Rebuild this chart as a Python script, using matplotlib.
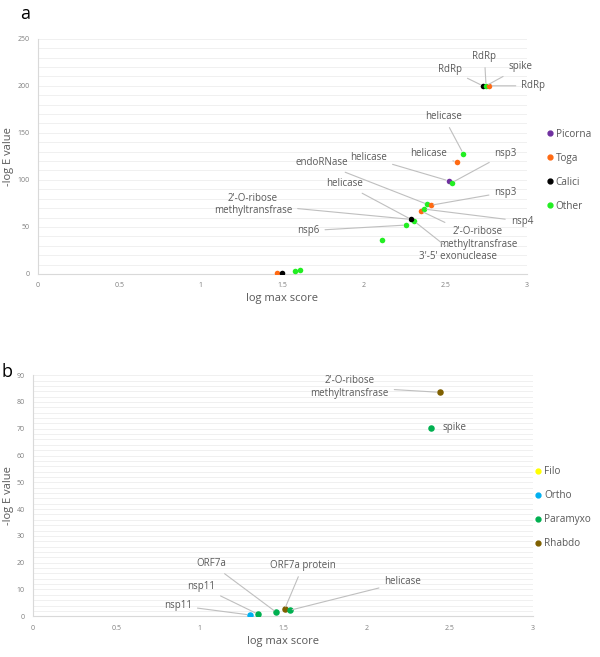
import matplotlib.pyplot as plt
from matplotlib.ticker import MultipleLocator
from matplotlib.lines import Line2D

plt.rcParams['font.family'] = ['Open Sans', 'DejaVu Sans']

# panel a data
a_groups = ['Picorna', 'Toga', 'Calici', 'Other']
a_colors = {'Picorna': '#7030A0', 'Toga': '#FF6A13', 'Calici': '#000000', 'Other': '#22EE22'}
a_x = [1.47, 1.50, 1.58, 1.61, 2.11, 2.26, 2.31, 2.29, 2.35, 2.37, 2.39, 2.41,
       2.52, 2.54, 2.57, 2.61, 2.73, 2.75, 2.77]
a_y = [1, 1, 3, 4, 36, 52, 56, 58, 67, 69, 74, 73,
       99, 97, 119, 128, 200, 200, 200]
a_grp = ['Toga', 'Calici', 'Other', 'Other', 'Other', 'Other', 'Other', 'Calici', 'Toga', 'Other', 'Other', 'Toga',
         'Picorna', 'Other', 'Toga', 'Other', 'Calici', 'Other', 'Toga']

# labels: (text, index of point)
a_labels = [('RdRp', 16), ('RdRp', 17), ('spike', 17), ('RdRp', 18),
            ('helicase', 15), ('helicase', 14), ('nsp3', 13), ('helicase', 12),
            ('endoRNase', 10), ('helicase', 7), ("2'-O-ribose\nmethyltransfrase", 7),
            ('nsp6', 5), ('nsp3', 11), ('nsp4', 9),
            ("2'-O-ribose\nmethyltransfrase", 8), ("3'-5' exonuclease", 6)]
a_label_pos = [(2.53, 217), (2.74, 231), (2.96, 220), (3.04, 200),
               (2.49, 167), (2.40, 128), (2.87, 128), (2.03, 124),
               (1.74, 118), (1.88, 96), (1.32, 74),
               (1.66, 46), (2.87, 87), (2.97, 56),
               (2.70, 38), (2.58, 19)]

# panel b data
b_groups = ['Filo', 'Ortho', 'Paramyxo', 'Rhabdo']
b_colors = {'Filo': '#FFFF00', 'Ortho': '#00B0F0', 'Paramyxo': '#00B050', 'Rhabdo': '#7F6000'}
b_x = [1.30, 1.35, 1.46, 1.51, 1.54, 2.39, 2.44]
b_y = [0.5, 0.8, 1.5, 2.6, 2.2, 70.3, 83.6]
b_grp = ['Ortho', 'Paramyxo', 'Paramyxo', 'Rhabdo', 'Paramyxo', 'Paramyxo', 'Rhabdo']

b_labels = [("2'-O-ribose\nmethyltransfrase", 6), ('spike', 5), ('ORF7a', 2),
            ('ORF7a protein', 3), ('nsp11', 1), ('nsp11', 0), ('helicase', 4)]
b_label_pos = [(1.90, 85.6), (2.53, 70.3), (1.07, 19.6),
               (1.62, 18.8), (1.01, 11.1), (0.87, 4.0), (2.22, 12.8)]

grey = '#595959'
line_grey = '#BFBFBF'

fig = plt.figure(figsize=(6, 6.57), dpi=100)
ax_a = fig.add_axes([0.063, 0.583, 0.815, 0.358])
ax_b = fig.add_axes([0.055, 0.062, 0.833, 0.367])


def style(ax, ymax, major, minor):
    ax.set_xlim(0, 3)
    ax.set_ylim(0, ymax)
    ax.xaxis.set_major_locator(MultipleLocator(0.5))
    ax.yaxis.set_major_locator(MultipleLocator(major))
    ax.yaxis.set_minor_locator(MultipleLocator(minor))
    ax.xaxis.set_major_formatter(plt.FuncFormatter(lambda v, p: f'{v:g}'))
    ax.grid(axis='y', which='both', color='#EEEEEE', lw=0.6)
    ax.set_axisbelow(True)
    for s in ['top', 'right']:
        ax.spines[s].set_visible(False)
    for s in ['left', 'bottom']:
        ax.spines[s].set_color('#D9D9D9')
        ax.spines[s].set_linewidth(0.8)
    ax.tick_params(which='both', length=0, labelsize=5, colors='#7F7F7F', pad=6)
    ax.set_xlabel('log max score', fontsize=8, color=grey, labelpad=3)
    ax.set_ylabel('-log E value', fontsize=8, color=grey, labelpad=2)


def draw(ax, xs, ys, grp, colors, groups, labels, pos, size, leg_x, leg_y):
    for x, y, g in zip(xs, ys, grp):
        ax.scatter(x, y, s=size, color=colors[g], zorder=3, linewidths=0)
    for (txt, i), (lx, ly) in zip(labels, pos):
        near = abs(lx - xs[i]) < 0.2 and abs(ly - ys[i]) < 1
        props = None if near else dict(arrowstyle='-', color=line_grey, lw=0.8,
                                       shrinkA=2, shrinkB=2)
        ax.annotate(txt, xy=(xs[i], ys[i]), xytext=(lx, ly), textcoords='data',
                    fontsize=7, color=grey, ha='center', va='center',
                    annotation_clip=False, arrowprops=props)
    handles = [Line2D([], [], ls='', marker='o', ms=3.5, color=colors[g], label=g)
               for g in groups]
    ax.legend(handles=handles, loc='center left', bbox_to_anchor=(leg_x, leg_y),
              frameon=False, fontsize=7.2, labelspacing=1.3, handletextpad=0.2,
              handlelength=0.8, labelcolor=grey)


style(ax_a, 250, 50, 10)
style(ax_b, 90, 10, 2)
draw(ax_a, a_x, a_y, a_grp, a_colors, a_groups, a_labels, a_label_pos, 16, 1.02, 0.44)
draw(ax_b, b_x, b_y, b_grp, b_colors, b_groups, b_labels, b_label_pos, 22, 0.985, 0.45)

fig.text(0.033, 0.992, 'a', fontsize=13, va='top', ha='left')
fig.text(0.002, 0.448, 'b', fontsize=13, va='top', ha='left')

fig.savefig('out.png', dpi=100)
